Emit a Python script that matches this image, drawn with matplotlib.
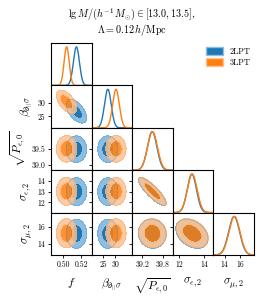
import numpy as np
import matplotlib
matplotlib.use("Agg")
import matplotlib.pyplot as plt
from matplotlib.patches import Patch

plt.rcParams['font.family'] = 'serif'
plt.rcParams['font.serif'] = ['cmr10', 'DejaVu Serif']
plt.rcParams['mathtext.fontset'] = 'cm'
plt.rcParams['axes.linewidth'] = 0.8

# ---------------- data ----------------
param_labels = [r'$f$', r'$\beta_{\partial_{||}\sigma}$', r'$\sqrt{P_{\epsilon,0}}$',
                r'$\sigma_{\epsilon,2}$', r'$\sigma_{\mu,2}$']
series_names = ['2LPT', '3LPT']

mean_2lpt = [0.5145, 26.9, 39.49, 13.00, 15.22]
mean_3lpt = [0.5038, 30.4, 39.50, 13.03, 15.27]

sd1d_2lpt = [0.0033, 1.45, 0.140, 0.37, 0.70]
sd1d_3lpt = [0.0028, 1.45, 0.145, 0.39, 0.70]

sd2d_2lpt = [0.0045, 1.75, 0.165, 0.52, 0.70]
sd2d_3lpt = [0.0045, 1.75, 0.165, 0.52, 0.70]

corr_pairs = {(0, 1): -0.55, (2, 3): -0.85, (3, 4): -0.35, (2, 4): -0.05}

xlims = [(0.4867, 0.5311), (19.9, 37.4), (38.90, 40.10), (11.47, 14.73), (12.56, 17.78)]
ylims = [None, (20.8, 36.5), (38.84, 40.15), (11.06, 14.99), (12.68, 17.74)]

xticks = [[0.50, 0.52], [25, 30], [39.2, 39.8], [12, 14], [14, 16]]
xticklabels = [['0.50', '0.52'], ['25', '30'], ['39.2', '39.8'], ['12', '14'], ['14', '16']]
yticks = [None, [25, 30], [39.0, 39.5], [12, 13, 14], [14, 16]]
yticklabels = [None, ['25', '30'], ['39.0', '39.5'], ['12', '13', '14'], ['14', '16']]

colors_dark = ['#1f77b4', '#ff7f0e']
colors_light = ['#8dbde0', '#fcc293']
alphas = [1.0, 0.85]

# ---------------- figure ----------------
fig = plt.figure(figsize=(2.64, 2.98), dpi=100)
gs = fig.add_gridspec(5, 5, left=51/264, right=254/264, top=1-43/298, bottom=1-255/298,
                      wspace=0, hspace=0)
n = 5
means = [mean_2lpt, mean_3lpt]
sd1 = [sd1d_2lpt, sd1d_3lpt]
sd2 = [sd2d_2lpt, sd2d_3lpt]

for i in range(n):
    for j in range(i + 1):
        ax = fig.add_subplot(gs[i, j])
        ax.tick_params(labelsize=5.5, length=2.5, width=0.6, pad=1.5)
        if i == j:
            x = np.linspace(*xlims[j], 300)
            for s in range(2):
                y = np.exp(-0.5 * ((x - means[s][j]) / sd1[s][j]) ** 2)
                ax.plot(x, y, color=colors_dark[s], lw=1.0)
            ax.set_ylim(0, 1.1)
            ax.set_yticks([])
        else:
            x = np.linspace(*xlims[j], 200)
            y = np.linspace(*ylims[i], 200)
            X, Y = np.meshgrid(x, y)
            rho = corr_pairs.get((j, i), 0.0)
            for s in range(2):
                zx = (X - means[s][j]) / sd2[s][j]
                zy = (Y - means[s][i]) / sd2[s][i]
                d2 = (zx**2 - 2*rho*zx*zy + zy**2) / (1 - rho**2)
                ax.contourf(X, Y, d2, levels=[0, 2.30, 6.18],
                            colors=[colors_dark[s], colors_light[s]], alpha=alphas[s])
                ax.contour(X, Y, d2, levels=[6.18], colors=[colors_dark[s]],
                           linewidths=0.4, alpha=0.4)
            ax.set_ylim(*ylims[i])
            ax.set_yticks(yticks[i])
            if j == 0:
                ax.set_yticklabels(yticklabels[i])
                ax.set_ylabel(param_labels[i], fontsize=8.5, labelpad=3)
            else:
                ax.set_yticklabels([])
        ax.set_xlim(*xlims[j])
        ax.set_xticks(xticks[j])
        if i == n - 1:
            ax.set_xticklabels(xticklabels[j])
            ax.set_xlabel(param_labels[j], fontsize=8.5, labelpad=5)
        else:
            ax.set_xticklabels([])

fig.text(0.5, 1 - 14/298, r'$\mathrm{lg}\,M/(h^{-1}\,M_{\odot}) \in [13.0, 13.5],$',
         ha='center', va='center', fontsize=7.3)
fig.text(0.5, 1 - 30/298, r'$\Lambda = 0.12\,h/\mathrm{Mpc}$',
         ha='center', va='center', fontsize=7.3)

handles = [Patch(facecolor=colors_dark[s], edgecolor=colors_light[s]) for s in range(2)]
fig.legend(handles, series_names, loc='upper left', bbox_to_anchor=(203/264, 1 - 44/298),
           frameon=False, fontsize=6, handlelength=2.0, handleheight=1.0,
           labelspacing=0.3, handletextpad=0.8, borderaxespad=0)

fig.savefig('out.png', dpi=100)
